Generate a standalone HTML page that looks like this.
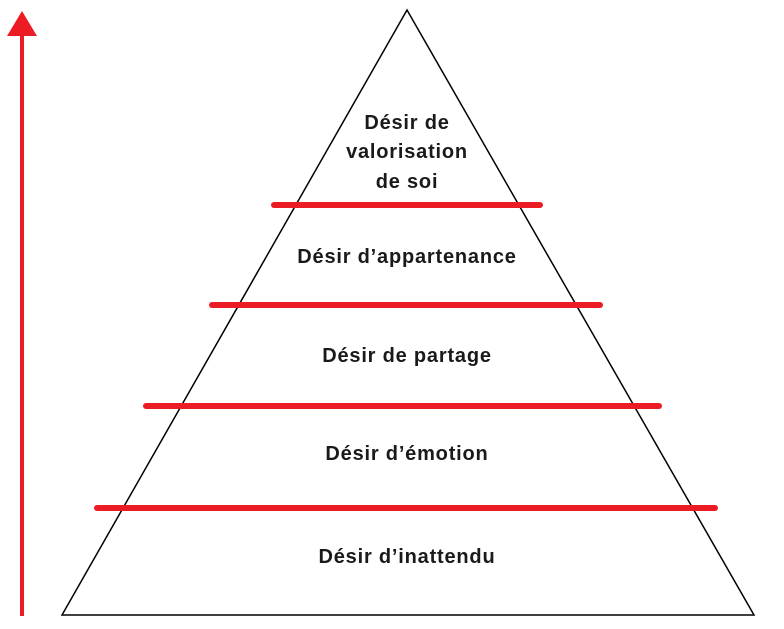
<!DOCTYPE html>
<html><head><meta charset="utf-8"><style>
html,body{margin:0;padding:0;background:#fff;}
svg{display:block;}
text{font-family:"Liberation Sans",sans-serif;font-weight:bold;font-size:20px;letter-spacing:0.8px;fill:#1a1a1a;text-anchor:middle;}
</style></head><body>
<svg width="784" height="629" viewBox="0 0 784 629">
<polygon points="407,10 62,615 754,615" fill="none" stroke="#000" stroke-width="1.5"/>
<g stroke="#ec1c24" stroke-width="6" stroke-linecap="round">
<line x1="274" y1="205" x2="540" y2="205"/>
<line x1="212" y1="305" x2="600" y2="305"/>
<line x1="146" y1="406" x2="659" y2="406"/>
<line x1="97" y1="508" x2="715" y2="508"/>
</g>
<line x1="22" y1="34" x2="22" y2="616" stroke="#ec1c24" stroke-width="4"/>
<polygon points="22,11 7,36 37,36" fill="#ec1c24"/>
<text x="407" y="129">Désir de</text>
<text x="407" y="158">valorisation</text>
<text x="407" y="188">de soi</text>
<text x="407" y="263">Désir d’appartenance</text>
<text x="407" y="362">Désir de partage</text>
<text x="407" y="460">Désir d’émotion</text>
<text x="407" y="563">Désir d’inattendu</text>
</svg>
</body></html>
